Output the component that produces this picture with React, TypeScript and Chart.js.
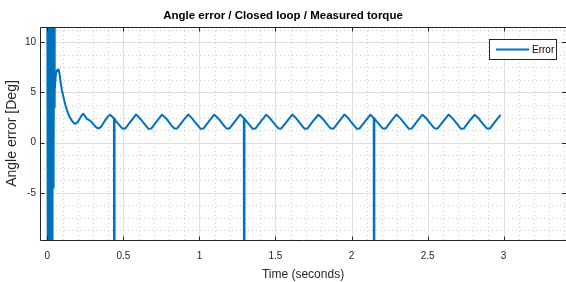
import React, { useEffect, useRef } from "react";
import { Chart, registerables } from "chart.js";

Chart.register(...registerables);

const TITLE = "Angle error / Closed loop / Measured torque";
const X_LABEL = "Time (seconds)";
const Y_LABEL = "Angle error [Deg]";
const SERIES_LABEL = "Error";

const X_TICKS = [0, 0.5, 1, 1.5, 2, 2.5, 3];
const Y_TICKS = [-5, 0, 5, 10];
const X_MIN = -0.048;
const X_MAX = 3.41;
const Y_MIN = -9.71;
const Y_MAX = 11.53;
const X_MINOR_STEP = 0.1;
const Y_MINOR_STEP = 1.25;

// time (s)
const TIME = [
  0.0, 0.0015, 0.003, 0.0045, 0.006, 0.0075, 0.009, 0.0105, 0.012, 0.0135,
  0.015, 0.0165, 0.018, 0.0195, 0.021, 0.0225, 0.024, 0.0255, 0.027, 0.0285,
  0.03, 0.0315, 0.033, 0.0345, 0.036, 0.0375, 0.039, 0.0405, 0.042, 0.0435,
  0.045, 0.047, 0.05, 0.054, 0.058, 0.066, 0.074, 0.08, 0.086, 0.096,
  0.107, 0.118, 0.129, 0.145, 0.161, 0.175, 0.186, 0.2, 0.216, 0.228,
  0.237, 0.25, 0.262, 0.275, 0.292, 0.31, 0.325, 0.338, 0.355, 0.379,
  0.398,
  0.412, 0.438, 0.44, 0.442, 0.449, 0.482, 0.494, 0.512, 0.547,
  0.583, 0.609, 0.62, 0.653, 0.665, 0.683, 0.718,
  0.754, 0.78, 0.791, 0.824, 0.836, 0.854, 0.889,
  0.926, 0.952, 0.963, 0.996, 1.008, 1.026, 1.061,
  1.097, 1.123, 1.134, 1.167, 1.179, 1.197, 1.232,
  1.268, 1.292, 1.294, 1.296, 1.305, 1.338, 1.35, 1.368, 1.403,
  1.439, 1.465, 1.476, 1.509, 1.521, 1.539, 1.574,
  1.61, 1.636, 1.647, 1.68, 1.692, 1.71, 1.745,
  1.782, 1.808, 1.819, 1.852, 1.864, 1.882, 1.917,
  1.953, 1.979, 1.99, 2.023, 2.035, 2.053, 2.088,
  2.124, 2.146, 2.148, 2.15, 2.161, 2.194, 2.206, 2.224, 2.259,
  2.295, 2.321, 2.332, 2.365, 2.377, 2.395, 2.43,
  2.466, 2.492, 2.503, 2.536, 2.548, 2.566, 2.601,
  2.638, 2.664, 2.675, 2.708, 2.72, 2.738, 2.773,
  2.809, 2.835, 2.846, 2.879, 2.891, 2.909, 2.944,
  2.98,
];

// angle error (deg)
const ERROR = [
  15, -15, 15, -15, 15, -15, 15, -15, 15, -15,
  15, -15, 15, -15, 15, -15, 15, -15, 15, -15,
  15, -12, 15, -7.8, 15, -4.5, 15, -2.5, 14, -2,
  12, 3.5, 5.2, 6.4, 7.0, 7.25, 7.3, 6.9, 6.2, 5.2,
  4.5, 3.8, 3.25, 2.6, 2.2, 1.95, 1.88, 2.05, 2.45, 2.75,
  2.88, 2.6, 2.35, 2.25, 2.05, 1.7, 1.48, 1.42, 1.6, 2.2,
  2.6,
  2.78, 2.42, -40, 2.38, 2.2, 1.6, 1.4, 1.4, 2.1,
  2.8, 2.42, 2.22, 1.6, 1.38, 1.4, 2.1,
  2.78, 2.44, 2.22, 1.58, 1.4, 1.42, 2.12,
  2.8, 2.42, 2.2, 1.6, 1.38, 1.4, 2.1,
  2.78, 2.43, 2.22, 1.6, 1.4, 1.4, 2.1,
  2.8, 2.44, -40, 2.4, 2.22, 1.6, 1.38, 1.4, 2.1,
  2.78, 2.42, 2.2, 1.6, 1.4, 1.42, 2.1,
  2.8, 2.43, 2.22, 1.58, 1.38, 1.4, 2.12,
  2.78, 2.42, 2.22, 1.6, 1.4, 1.4, 2.1,
  2.8, 2.44, 2.2, 1.6, 1.38, 1.42, 2.1,
  2.78, 2.46, -40, 2.42, 2.2, 1.6, 1.4, 1.4, 2.12,
  2.8, 2.42, 2.22, 1.6, 1.38, 1.4, 2.1,
  2.78, 2.43, 2.2, 1.58, 1.4, 1.42, 2.1,
  2.8, 2.42, 2.22, 1.6, 1.38, 1.4, 2.12,
  2.78, 2.44, 2.2, 1.6, 1.4, 1.4, 2.1,
  2.76,
];

const LINE_COLOR = "#0072BD";
const AXIS_COLOR = "#262626";
const FONT = "'Liberation Sans', Arial, sans-serif";

const gridPlugin = {
  id: "matlabGrid",
  beforeDatasetsDraw(chart: any) {
    const { ctx, chartArea: a } = chart;
    const x = chart.scales.x;
    const y = chart.scales.y;
    ctx.save();
    ctx.beginPath();
    ctx.rect(a.left, a.top, a.right - a.left, a.bottom - a.top);
    ctx.clip();
    // minor dotted
    ctx.strokeStyle = "#cfcfcf";
    ctx.lineWidth = 1;
    ctx.setLineDash([1, 3]);
    ctx.beginPath();
    for (let i = Math.ceil(X_MIN / X_MINOR_STEP); i * X_MINOR_STEP <= X_MAX; i++) {
      if (i % 5 === 0) continue;
      const px = Math.round(x.getPixelForValue(i * X_MINOR_STEP)) + 0.5;
      ctx.moveTo(px, a.top);
      ctx.lineTo(px, a.bottom);
    }
    for (let i = Math.ceil(Y_MIN / Y_MINOR_STEP); i * Y_MINOR_STEP <= Y_MAX; i++) {
      if (i % 4 === 0) continue;
      const py = Math.round(y.getPixelForValue(i * Y_MINOR_STEP)) + 0.5;
      ctx.moveTo(a.left, py);
      ctx.lineTo(a.right, py);
    }
    ctx.stroke();
    // major solid
    ctx.setLineDash([]);
    ctx.strokeStyle = "#dfdfdf";
    ctx.beginPath();
    X_TICKS.forEach((v) => {
      const px = Math.round(x.getPixelForValue(v)) + 0.5;
      ctx.moveTo(px, a.top);
      ctx.lineTo(px, a.bottom);
    });
    Y_TICKS.forEach((v) => {
      const py = Math.round(y.getPixelForValue(v)) + 0.5;
      ctx.moveTo(a.left, py);
      ctx.lineTo(a.right, py);
    });
    ctx.stroke();
    ctx.restore();
  },
  afterDatasetsDraw(chart: any) {
    const { ctx, chartArea: a } = chart;
    const x = chart.scales.x;
    const y = chart.scales.y;
    const L = Math.round(a.left) + 0.5;
    const T = Math.round(a.top) + 0.5;
    const B = Math.round(a.bottom) + 0.5;
    const R = a.right;
    ctx.save();
    ctx.strokeStyle = AXIS_COLOR;
    ctx.lineWidth = 1;
    ctx.beginPath();
    ctx.moveTo(L, T);
    ctx.lineTo(R, T);
    ctx.moveTo(L, T);
    ctx.lineTo(L, B);
    ctx.moveTo(L, B);
    ctx.lineTo(R, B);
    X_TICKS.forEach((v) => {
      const px = Math.round(x.getPixelForValue(v)) + 0.5;
      ctx.moveTo(px, T);
      ctx.lineTo(px, T + 4);
      ctx.moveTo(px, B);
      ctx.lineTo(px, B - 4);
    });
    Y_TICKS.forEach((v) => {
      const py = Math.round(y.getPixelForValue(v)) + 0.5;
      ctx.moveTo(L, py);
      ctx.lineTo(L + 4, py);
      ctx.moveTo(R, py);
      ctx.lineTo(R - 4, py);
    });
    ctx.stroke();
    ctx.restore();
  },
  afterDraw(chart: any) {
    const { ctx } = chart;
    ctx.save();
    const bx = 489.5, by = 39.5, bw = 67, bh = 20;
    ctx.fillStyle = "#ffffff";
    ctx.fillRect(bx, by, bw, bh);
    ctx.strokeStyle = AXIS_COLOR;
    ctx.lineWidth = 1;
    ctx.strokeRect(bx, by, bw, bh);
    ctx.strokeStyle = LINE_COLOR;
    ctx.lineWidth = 2;
    ctx.beginPath();
    ctx.moveTo(496, 49.5);
    ctx.lineTo(529, 49.5);
    ctx.stroke();
    ctx.fillStyle = "#000000";
    ctx.font = `10px ${FONT}`;
    ctx.textBaseline = "middle";
    ctx.textAlign = "left";
    ctx.fillText(chart.data.datasets[0].label, 532, 50);
    ctx.restore();
  },
};

export default function App() {
  const ref = useRef<HTMLCanvasElement | null>(null);
  useEffect(() => {
    if (!ref.current) return;
    const points = TIME.map((t, i) => ({ x: t, y: ERROR[i] }));
    const chart = new Chart(ref.current, {
      type: "line",
      data: {
        datasets: [
          {
            label: SERIES_LABEL,
            data: points,
            borderColor: LINE_COLOR,
            backgroundColor: LINE_COLOR,
            borderWidth: 2,
            pointRadius: 0,
            tension: 0,
            borderJoinStyle: "round",
            clip: 0,
          } as any,
        ],
      },
      options: {
        animation: false,
        responsive: false,
        devicePixelRatio: 1,
        layout: { padding: 0 },
        plugins: {
          legend: { display: false },
          tooltip: { enabled: false },
          title: {
            display: true,
            text: TITLE,
            color: "#000000",
            font: { family: FONT, size: 11.5, weight: "bold" },
            padding: { top: 9.2, bottom: 4 },
          },
        },
        scales: {
          x: {
            type: "linear",
            min: X_MIN,
            max: X_MAX,
            grid: { display: false, drawTicks: false },
            border: { display: false },
            afterBuildTicks: (s: any) => {
              s.ticks = X_TICKS.map((v) => ({ value: v }));
            },
            afterFit: (s: any) => {
              s.height = 42;
            },
            ticks: {
              color: AXIS_COLOR,
              font: { family: FONT, size: 10 },
              padding: 10,
              maxRotation: 0,
              autoSkip: false,
              callback: (v: any) => String(v),
            },
            title: {
              display: true,
              text: X_LABEL,
              color: AXIS_COLOR,
              font: { family: FONT, size: 12 },
              padding: { top: 0, bottom: 0 },
            },
          },
          y: {
            type: "linear",
            min: Y_MIN,
            max: Y_MAX,
            grid: { display: false, drawTicks: false },
            border: { display: false },
            afterBuildTicks: (s: any) => {
              s.ticks = Y_TICKS.map((v) => ({ value: v }));
            },
            afterFit: (s: any) => {
              s.width = 40;
            },
            ticks: {
              color: AXIS_COLOR,
              font: { family: FONT, size: 10 },
              padding: 4,
              autoSkip: false,
              callback: (v: any) => String(v),
            },
            title: {
              display: true,
              text: Y_LABEL,
              color: AXIS_COLOR,
              font: { family: FONT, size: 14 },
              padding: { top: 4, bottom: 0 },
            },
          },
        },
      },
      plugins: [gridPlugin],
    });
    return () => chart.destroy();
  }, []);
  return (
    <div style={{ position: "fixed", left: 0, top: 0, width: 566, height: 282, background: "#fff" }}>
      <canvas ref={ref} width={566} height={282} style={{ display: "block" }} />
    </div>
  );
}
